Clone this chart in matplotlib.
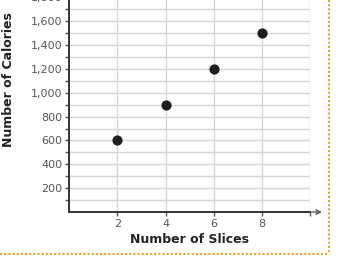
import numpy as np
import matplotlib.pyplot as plt

slices = [2, 4, 6, 8]
calories = [600, 900, 1200, 1500]
x_ticks = [2, 4, 6, 8]
y_ticks = list(range(200, 2000, 200))
y_tick_labels = ['{:,}'.format(v) for v in y_ticks]

fig = plt.figure(figsize=(3.47, 2.58), dpi=100)
ax = fig.add_axes([0.199, 0.178, 0.695, 0.879])

ax.set_xlim(0, 10)
ax.set_ylim(0, 1900)

# grid
for yv in range(100, 1900, 100):
    ax.axhline(yv, color='#d6d6d6', lw=1.0, zorder=0)
for xv in [2, 4, 6, 8, 10]:
    ax.axvline(xv, color='#d6d6d6', lw=1.0, zorder=0)

ax.scatter(slices, calories, s=40, color='#1e1e1e', zorder=3)

for side in ['top', 'right']:
    ax.spines[side].set_visible(False)
for side in ['left', 'bottom']:
    ax.spines[side].set_color('#333333')
    ax.spines[side].set_linewidth(1.4)

ax.set_xticks(x_ticks + [10])
ax.set_xticklabels([str(v) for v in x_ticks] + [''])
ax.set_yticks(y_ticks)
ax.set_yticklabels(y_tick_labels)
ax.set_yticks(list(range(100, 1900, 200)), minor=True)
ax.tick_params(axis='both', which='both', length=3, width=1, color='#555555',
               labelsize=8, labelcolor='#555555', pad=2)

# arrow on x axis
ax.annotate('', xy=(10.6, 0), xytext=(9.95, 0), xycoords='data',
            arrowprops=dict(arrowstyle='->', color='#555555', lw=1.0,
                            mutation_scale=8),
            annotation_clip=False)

ax.set_xlabel('Number of Slices', fontsize=9, fontweight='bold', color='#222222', labelpad=3)
fig.text(0.025, 0.69, 'Number of Calories', rotation=90, fontsize=9,
         fontweight='bold', color='#222222', ha='center', va='center')

# dotted orange border
fig.add_artist(plt.Line2D([329 / 347, 329 / 347], [1.0, 4 / 258], color='#f0a020',
                          lw=1.5, ls=(0, (1, 1)), transform=fig.transFigure))
fig.add_artist(plt.Line2D([0, 329 / 347], [4 / 258, 4 / 258], color='#f0a020',
                          lw=1.5, ls=(0, (1, 1)), transform=fig.transFigure))

fig.savefig('out.png', dpi=100)
